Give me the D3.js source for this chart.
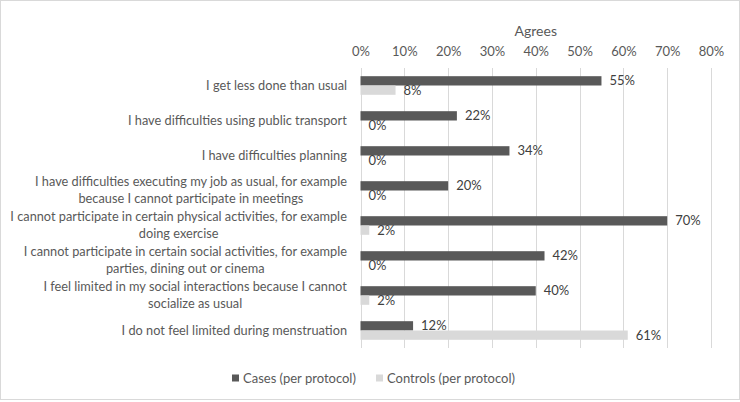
<!DOCTYPE html>
<html><head><meta charset="utf-8">
<script src="https://cdn.jsdelivr.net/npm/d3@7"></script>
<style>html,body{margin:0;padding:0;background:#fff;}svg{display:block;}</style>
</head><body>
<svg id="chart" width="740" height="402"></svg>
<script>
const categories = [
  "I get less done than usual",
  "I have difficulties using public transport",
  "I have difficulties planning",
  "I have difficulties executing my job as usual, for example\nbecause I cannot participate in meetings",
  "I cannot participate in certain physical activities, for example\ndoing exercise",
  "I cannot participate in certain social activities, for example\nparties, dining out or cinema",
  "I feel limited in my social interactions because I cannot\nsocialize as usual",
  "I do not feel limited during menstruation"
];
const seriesNames = ["Cases (per protocol)", "Controls (per protocol)"];
const cases = [55, 22, 34, 20, 70, 42, 40, 12];
const controls = [8, 0, 0, 0, 2, 0, 2, 61];
const xTicks = [0, 10, 20, 30, 40, 50, 60, 70, 80];
const axisTitle = "Agrees";

(function () {
const colors = {"Cases (per protocol)": "#595959", "Controls (per protocol)": "#d9d9d9"};
const textColor = "#595959";
const font = "Lato, 'Open Sans', sans-serif";

const svg = d3.select("#chart");
const W = 740, H = 402;
svg.append("rect").attr("x", 0.5).attr("y", 0.5).attr("width", W - 1).attr("height", H - 3)
  .attr("fill", "#fff").attr("stroke", "#d9d9d9").attr("stroke-width", 1);

const pLeft = 360.5, pRight = 711, pTop = 68, pBottom = 348;
const x = d3.scaleLinear().domain([0, 80]).range([pLeft, pRight]);
const y0 = d3.scaleBand().domain(categories).range([pTop, pBottom]);
const y1 = d3.scaleBand().domain(seriesNames).range([0, y0.bandwidth()]).paddingOuter(0.88);

svg.append("g").selectAll("line").data(xTicks).join("line")
  .attr("x1", d => Math.round(x(d)) + 0.5).attr("x2", d => Math.round(x(d)) + 0.5)
  .attr("y1", pTop).attr("y2", pBottom)
  .attr("stroke", "#d9d9d9").attr("stroke-width", 1);

const axis = d3.axisTop(x).tickValues(xTicks).tickFormat(d => d + "%").tickSize(0).tickPadding(0);
const ag = svg.append("g").attr("transform", `translate(0,55.5)`).call(axis);
ag.select(".domain").remove();
ag.selectAll("text").attr("fill", textColor).style("font-family", font).style("font-size", "13px");

svg.append("text").attr("x", (pLeft + pRight) / 2).attr("y", 35.5).attr("text-anchor", "middle")
  .attr("fill", textColor).style("font-family", font).style("font-size", "14px").text(axisTitle);

const rows = categories.map((c, i) => ({cat: c, vals: [{s: seriesNames[0], v: cases[i]}, {s: seriesNames[1], v: controls[i]}]}));
const g = svg.append("g");
const rowG = g.selectAll("g.row").data(rows).join("g").attr("class", "row")
  .attr("transform", d => `translate(0,${y0(d.cat)})`);
rowG.selectAll("rect").data(d => d.vals).join("rect")
  .attr("x", x(0)).attr("y", d => y1(d.s)).attr("width", d => x(d.v) - x(0)).attr("height", y1.bandwidth())
  .attr("fill", d => colors[d.s]);
rowG.selectAll("text.val").data(d => d.vals).join("text").attr("class", "val")
  .attr("x", d => x(d.v) + 8).attr("y", d => y1(d.s) + y1.bandwidth() / 2).attr("dy", "0.35em")
  .attr("fill", "#404040").style("font-family", font).style("font-size", "13px")
  .text(d => d.v + "%");

const catG = svg.append("g");
categories.forEach(c => {
  const lines = c.split("\n");
  const cy = y0(c) + y0.bandwidth() / 2;
  const lh = 17;
  const t = catG.append("text").attr("text-anchor", "middle").attr("fill", textColor)
    .style("font-family", font).style("font-size", "12.75px");
  lines.forEach((ln, j) => {
    t.append("tspan").attr("x", 0).attr("y", cy + (j - (lines.length - 1) / 2) * lh).attr("dy", "0.35em").text(ln);
  });
  const bb = t.node().getBBox();
  t.attr("transform", `translate(${347 - bb.width / 2},0)`);
});

const legend = svg.append("g").attr("transform", "translate(0,378)");
const lx = [232, 376];
seriesNames.forEach((s, i) => {
  legend.append("rect").attr("x", lx[i]).attr("y", -3.5).attr("width", 7).attr("height", 7).attr("fill", colors[s]);
  legend.append("text").attr("x", lx[i] + 11).attr("y", 0).attr("dy", "0.35em").attr("fill", textColor)
    .style("font-family", font).style("font-size", "13px").text(s);
});
})();
</script>
</body></html>
